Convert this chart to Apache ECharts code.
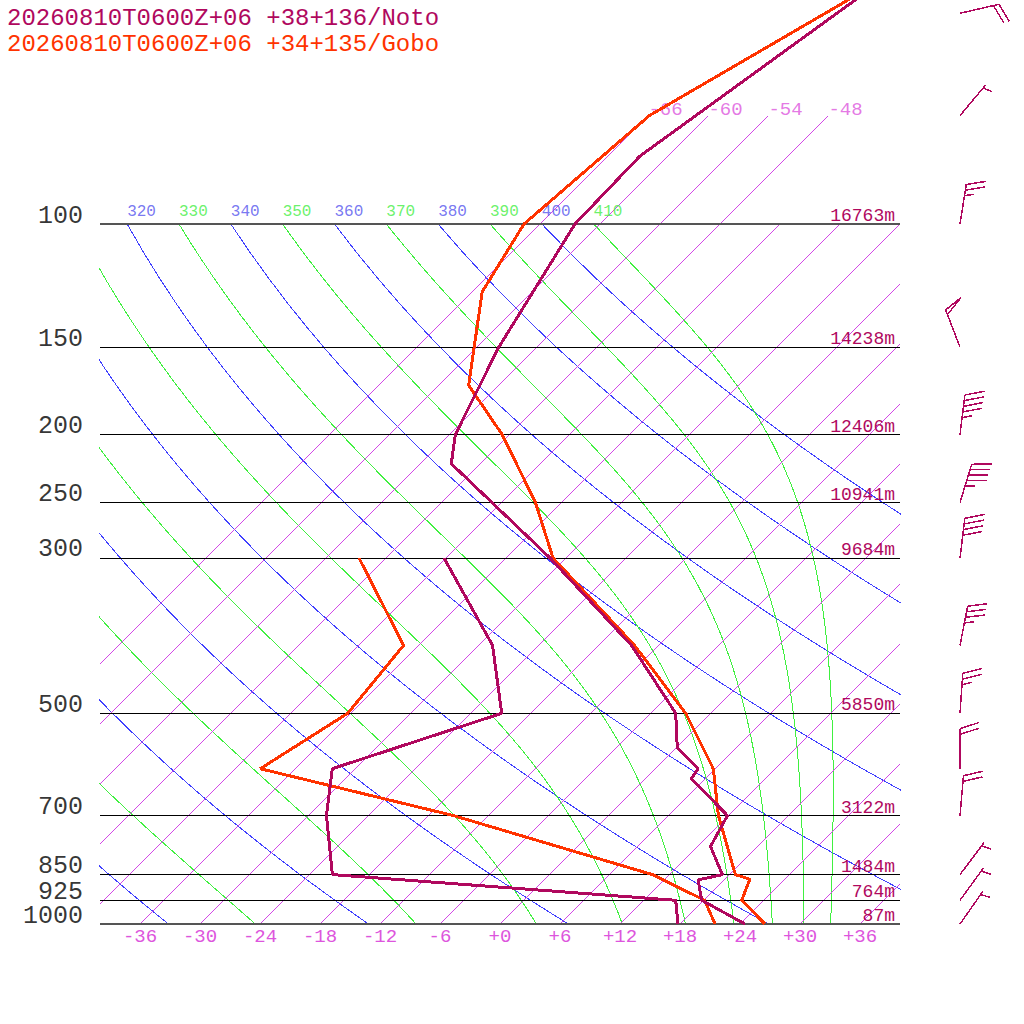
<!DOCTYPE html>
<html>
<head>
<meta charset="utf-8">
<script src="https://cdn.jsdelivr.net/npm/echarts@6/dist/echarts.min.js"></script>
<style>
html, body { margin: 0; padding: 0; background: #fff; }
#chart { width: 1024px; height: 1024px; }
#chart svg path { shape-rendering: crispEdges; }
</style>
</head>
<body>
<div id="chart"></div>
<script>
// station headers
var stationNames = ['20260810T0600Z+06 +38+136/Noto', '20260810T0600Z+06 +34+135/Gobo'];

// pressure levels (hPa) and heights of Noto
var levels = [100, 150, 200, 250, 300, 500, 700, 850, 925, 1000];
var heights = ['16763m', '14238m', '12406m', '10941m', '9684m', '5850m', '3122m', '1484m', '764m', '87m'];

// bottom temperature ticks
var tempTicks = [-36, -30, -24, -18, -12, -6, 0, 6, 12, 18, 24, 30, 36];

// background lines
var isotherms = [-66, -60, -54, -48, -42, -36, -30, -24, -18, -12, -6, 0, 6, 12, 18, 24, 30, 36];
var labelledIsotherms = [-66, -60, -54, -48];
var dryTheta = [240, 260, 280, 300, 320, 340, 360, 380, 400];
var moistTheta = [250, 270, 290, 310, 330, 350, 370, 390, 410];

// Noto profile
var notoP = [30, 80, 100, 150, 200, 220, 300, 400, 500, 560, 600, 620, 700, 775, 850, 865, 925, 1000];
var notoT = [-51.5, -62.8, -62.5, -57.8, -53.4, -50.9, -31.6, -14.7, -3.5, 0.1, 4.3, 4.6, 11.9, 13.3, 17.3, 15.4, 17.8, 24.5];
var notoTdP = [300, 400, 500, 600, 700, 850, 925, 1000];
var notoTd = [-42.2, -28.6, -20.9, -32.3, -28.2, -21.7, 15.2, 17.8];

// Gobo profile
var goboP = [30, 70, 100, 125, 170, 200, 250, 300, 400, 500, 600, 700, 850, 863, 925, 1000];
var goboT = [-47.4, -65.9, -67.6, -65.0, -57.0, -48.7, -38.6, -31.3, -14.4, -2.5, 5.8, 11.0, 18.6, 20.5, 21.8, 26.5];
var goboTdP = [300, 400, 500, 600, 700, 850, 925, 1000];
var goboTd = [-50.7, -37.5, -36.3, -39.5, -15.5, 10.3, 18.1, 21.5];

// Noto winds
var windP = [50, 70, 100, 150, 200, 250, 300, 400, 500, 600, 700, 850, 925, 1000];
var windDir = [77, 40, 9, 339, 7, 17, 7, 11, 4, 0, 5, 37, 36, 35];
var windKt = [20, 5, 25, 50, 45, 45, 40, 35, 25, 20, 20, 5, 5, 5];

var NOTO = '#b0085e';
var GOBO = '#ff3300';
var ISO = 'rgb(210,70,230)';
var MONO = 'Liberation Mono';
var KAPPA = 0.2854;
var XMIN = -40, XMAX = 40;

// skewed x coordinate: 1 degC per 10px, 45 degree skew
function skew(t, p) { return t + 70 * Math.log10(1000 / p); }
// pressure at which isotherm t reaches skewed x
function pAt(t, x) { return 1000 / Math.pow(10, (x - t) / 70); }

function profile(ps, ts) {
  return ps.map(function (p, i) { return [skew(ts[i], p), p]; });
}

function dryLine(theta) {
  var pts = [];
  for (var p = 100; p <= 1000; p += 10) {
    pts.push([skew(theta * Math.pow(p / 1000, KAPPA) - 273.15, p), p]);
  }
  return pts;
}

// pseudo-adiabat integrated downward from 100 hPa
function moistLine(theta) {
  var Rd = 287.04, cp = 1005.7, Lv = 2.501e6, eps = 0.622;
  function rate(T, p) {
    var tc = T - 273.15;
    var es = 6.112 * Math.exp(17.67 * tc / (tc + 243.5));
    var rs = eps * es / (p - es);
    return (Rd * T + Lv * rs) / (cp + Lv * Lv * rs * eps / (Rd * T * T));
  }
  var T = theta * Math.pow(0.1, KAPPA), p = 100, n = 300, dl = Math.log(10) / n;
  var pts = [[skew(T - 273.15, p), p]];
  for (var i = 1; i <= n; i++) {
    var k1 = rate(T, p);
    var k2 = rate(T + k1 * dl / 2, p * Math.exp(dl / 2));
    T += k2 * dl;
    p = p * Math.exp(dl);
    if (i % 5 === 0) pts.push([skew(T - 273.15, p), p]);
  }
  return pts;
}

function thinLine(color, data) {
  return {
    type: 'line', symbol: 'none', z: 1, silent: true,
    lineStyle: { color: color, width: 1 },
    data: data
  };
}

var series = [];

dryTheta.forEach(function (th) { series.push(thinLine('#4040ff', dryLine(th))); });
moistTheta.forEach(function (th) { series.push(thinLine('#40f040', moistLine(th))); });

// isotherms, drawn as custom lines clipped to the plot box, above the adiabats
series.push({
  type: 'custom', silent: true, clip: false, z: 2,
  data: isotherms.map(function (t) { return [t, labelledIsotherms.indexOf(t) >= 0 ? 70 : 100]; }),
  renderItem: function (params, api) {
    var t = api.value(0), pb = 1000, pt = api.value(1);
    if (skew(t, pb) < XMIN) pb = pAt(t, XMIN);
    if (skew(t, pt) > XMAX) pt = pAt(t, XMAX);
    if (pt >= pb) return null;
    var a = api.coord([skew(t, pb), pb]);
    var b = api.coord([skew(t, pt), pt]);
    return { type: 'line', shape: { x1: a[0], y1: a[1], x2: b[0], y2: b[1] },
      style: { stroke: ISO, lineWidth: 1, fill: null, opacity: 1 } };
  }
});

// labels at the top of the background lines
series.push({
  type: 'scatter', silent: true, symbolSize: 0, z: 3,
  data: labelledIsotherms.map(function (t) { return [skew(t, 70), 70, t]; }),
  label: { show: true, position: [0, -6], align: 'left', verticalAlign: 'middle',
    fontFamily: MONO, fontSize: 19, color: '#dd55dd',
    formatter: function (d) { return String(d.value[2]); } }
});
function thetaLabels(list, color) {
  var pts = list.map(function (th) { return [skew(th * Math.pow(0.1, KAPPA) - 273.15, 100), 100, th]; })
    .filter(function (d) { return d[0] >= XMIN; });
  return {
    type: 'scatter', silent: true, symbolSize: 0, z: 3, data: pts,
    label: { show: true, position: [0, -12], align: 'left', verticalAlign: 'middle',
      fontFamily: MONO, fontSize: 16, color: color,
      formatter: function (d) { return String(d.value[2]); } }
  };
}
series.push(thetaLabels(dryTheta, '#5555ee'));
series.push(thetaLabels(moistTheta, '#44ee44'));

// pressure level labels on the left
series.push({
  type: 'scatter', silent: true, symbolSize: 0, z: 3,
  data: levels.map(function (p) { return [XMIN, p, p]; }),
  label: { show: true, position: [-17, -8], align: 'right', verticalAlign: 'middle',
    fontFamily: MONO, fontSize: 25, lineHeight: 17, color: '#000',
    formatter: function (d) { return String(d.value[2]); } }
});

// pressure levels with heights
series.push({
  type: 'line', silent: true, symbol: 'none', z: 4, data: [[0, 1000]],
  lineStyle: { opacity: 0 },
  markLine: {
    silent: true, symbol: 'none', animation: false,
    lineStyle: { color: '#000', width: 1, type: 'solid' },
    label: { show: true, position: 'insideEndTop', distance: [5, -1],
      fontFamily: MONO, fontSize: 18, color: NOTO },
    data: levels.map(function (p, i) {
      var item = { yAxis: p, label: { formatter: heights[i] } };
      if (p === 100 || p === 1000) item.lineStyle = { color: '#555', width: 2, type: 'solid' };
      return item;
    })
  }
});

// profiles
[[goboTdP, goboTd, GOBO], [goboP, goboT, GOBO], [notoTdP, notoTd, NOTO], [notoP, notoT, NOTO]].forEach(function (s) {
  series.push({ type: 'line', silent: true, symbol: 'none', z: 6, color: s[2],
    lineStyle: { color: s[2], width: 3 }, data: profile(s[0], s[1]) });
});

// wind barbs in a column right of the plot
var BARB_X = 46;
series.push({
  type: 'custom', silent: true, clip: false, z: 6,
  data: windP.map(function (p, i) { return [BARB_X, p, windDir[i], windKt[i]]; }),
  renderItem: function (params, api) {
    var base = api.coord([api.value(0), api.value(1)]);
    var dir = api.value(2) * Math.PI / 180;
    var kt = Math.round(api.value(3) / 5) * 5;
    var ux = Math.sin(dir), uy = -Math.cos(dir);
    var a = 72 * Math.PI / 180;
    var bx = ux * Math.cos(a) - uy * Math.sin(a);
    var by = ux * Math.sin(a) + uy * Math.cos(a);
    var L = 40, tip = [base[0] + ux * L, base[1] + uy * L];
    var st = { stroke: NOTO, lineWidth: 1.5, fill: null };
    var kids = [{ type: 'line', shape: { x1: base[0], y1: base[1], x2: tip[0], y2: tip[1] }, style: st }];
    function at(d) { return [tip[0] - ux * d, tip[1] - uy * d]; }
    var pen = Math.floor(kt / 50), full = Math.floor((kt % 50) / 10), half = kt % 10 >= 5;
    var d = 0, i, p0;
    for (i = 0; i < pen; i++) {
      p0 = at(d);
      kids.push({ type: 'polygon', shape: { points: [p0, [p0[0] + bx * 20, p0[1] + by * 20], at(d + 5)] }, style: st });
      d += 7;
    }
    for (i = 0; i < full; i++) {
      p0 = at(d);
      kids.push({ type: 'line', shape: { x1: p0[0], y1: p0[1], x2: p0[0] + bx * 20, y2: p0[1] + by * 20 }, style: st });
      d += 5.7;
    }
    if (half) {
      if (pen + full === 0) d = 4;
      p0 = at(d);
      kids.push({ type: 'line', shape: { x1: p0[0], y1: p0[1], x2: p0[0] + bx * 10, y2: p0[1] + by * 10 }, style: st });
    }
    return { type: 'group', children: kids };
  }
});

var chart = echarts.init(document.getElementById('chart'), null, { renderer: 'svg' });
chart.setOption({
  backgroundColor: '#fff',
  animation: false,
  title: {
    text: stationNames[0], subtext: stationNames[1],
    left: 2, top: 2, itemGap: 2,
    textStyle: { fontFamily: MONO, fontSize: 24, lineHeight: 22, fontWeight: 'normal', color: NOTO },
    subtextStyle: { fontFamily: MONO, fontSize: 24, lineHeight: 22, color: GOBO }
  },
  grid: { left: 100, right: 124, top: 0, bottom: 100 },
  xAxis: {
    type: 'value', min: XMIN, max: XMAX,
    axisLine: { show: false }, axisTick: { show: false }, splitLine: { show: false },
    axisLabel: {
      customValues: tempTicks, margin: 3,
      fontFamily: MONO, fontSize: 19, color: '#dd55dd',
      formatter: function (v) { return (v >= 0 ? '+' : '') + v; }
    }
  },
  yAxis: {
    type: 'log', logBase: 10, inverse: true,
    min: 1000 / Math.pow(10, 924 / 700), max: 1000,
    axisLine: { show: false }, axisTick: { show: false }, splitLine: { show: false },
    axisLabel: { show: false }
  },
  series: series
});
</script>
</body>
</html>
